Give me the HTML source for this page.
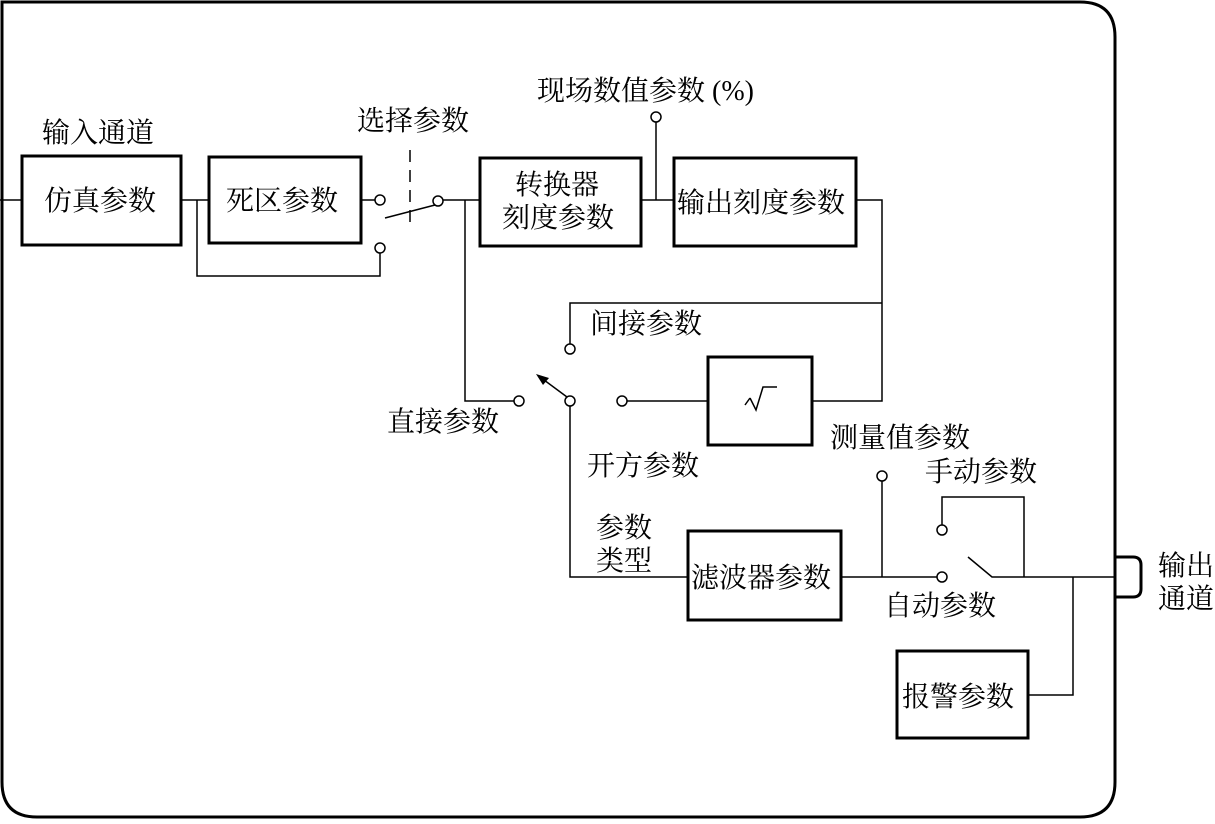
<!DOCTYPE html>
<html><head><meta charset="utf-8"><style>
html,body{margin:0;padding:0;background:#fff;}
svg text{font-family:"Liberation Serif","Noto Serif CJK SC","Noto Sans CJK SC",serif;font-size:28px;fill:#000;}
</style></head><body>
<svg width="1215" height="819" viewBox="0 0 1215 819" xmlns="http://www.w3.org/2000/svg">
<g fill="none" stroke="#000">
<path d="M2,2 H1080 Q1115,2 1115,37 V782 Q1115,817 1080,817 H37 Q2,817 2,782 Z" stroke-width="3"/>
<path d="M1115,557 H1133 Q1141,557 1141,565 V589 Q1141,597 1133,597 H1115" stroke-width="3"/>
<g stroke-width="3">
<rect x="22" y="156" width="159" height="89"/>
<rect x="209" y="157" width="152" height="86"/>
<rect x="480" y="158" width="161" height="88"/>
<rect x="674" y="158" width="182" height="88"/>
<rect x="708" y="357" width="104" height="88"/>
<rect x="688" y="531" width="153" height="89"/>
<rect x="897" y="651" width="131" height="87"/>
</g>
<g stroke-width="1.5">
<path d="M0,200 H22 M181,200 H209 M197,200 V276 H380 V253"/>
<path d="M361,200 H375"/>
<circle cx="380" cy="200" r="5"/>
<circle cx="380" cy="248" r="5"/>
<circle cx="438" cy="201" r="5"/>
<path d="M385,218 L435,205"/>
<path d="M410,150 V222" stroke-dasharray="12,8"/>
<path d="M443,200 H480 M465,200 V401 H514"/>
<circle cx="519" cy="401" r="5"/>
<path d="M641,200 H674 M656,200 V122"/>
<circle cx="656" cy="117" r="5"/>
<path d="M856,200 H882 V401 H812 M882,303 H570 V344"/>
<circle cx="570" cy="349" r="5"/>
<circle cx="570" cy="401" r="5"/>
<circle cx="622" cy="401" r="5"/>
<path d="M567,397 L540,377"/>
<path d="M627,401 H708"/>
<path d="M570,406 V577 H688"/>
<path d="M841,577 H937 M882,577 V481"/>
<circle cx="882" cy="476" r="5"/>
<circle cx="942" cy="577" r="5"/>
<circle cx="942" cy="530" r="5"/>
<path d="M942,525 V497 H1024 V577"/>
<path d="M968,557 L992,577 H1115 M1073,577 V695 H1028"/>
<path d="M745,405 L750,398 M750,398 L756,410 L763,387 H777" stroke-width="1.5"/>
</g>
</g>
<path d="M536,374 L549,378 L543,385 Z" fill="#000"/>
<text x="42" y="142">输入通道</text>
<text x="44" y="210">仿真参数</text>
<text x="226" y="210">死区参数</text>
<text x="357" y="130">选择参数</text>
<text x="515" y="194">转换器</text>
<text x="502" y="227">刻度参数</text>
<text x="537" y="100">现场数值参数 (%)</text>
<text x="677" y="212">输出刻度参数</text>
<text x="590" y="333">间接参数</text>
<text x="387" y="431">直接参数</text>
<text x="587" y="475">开方参数</text>
<text x="830" y="447">测量值参数</text>
<text x="925" y="481">手动参数</text>
<text x="596" y="537">参数</text>
<text x="596" y="570">类型</text>
<text x="691" y="587">滤波器参数</text>
<text x="884" y="615">自动参数</text>
<text x="902" y="706">报警参数</text>
<text x="1158" y="575">输出</text>
<text x="1158" y="608">通道</text>
</svg>
</body></html>
